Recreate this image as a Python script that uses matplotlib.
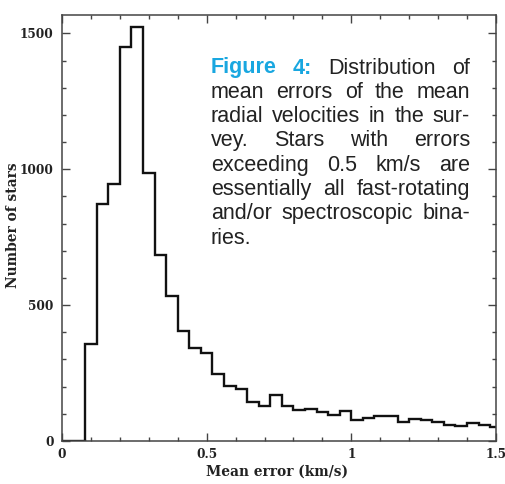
import matplotlib
matplotlib.use("Agg")
import matplotlib.pyplot as plt
from matplotlib import font_manager
import numpy as np

# ---- data ----
bin_start = 0.08
bin_width = 0.04
counts = [356, 874, 945, 1451, 1525, 988, 684, 534, 404, 344, 324, 248,
          201, 193, 144, 128, 168, 129, 113, 117, 108, 97, 109, 76,
          86, 92, 91, 70, 82, 76, 70, 60, 54, 66, 60, 52]
xticks = [0, 0.5, 1, 1.5]
xticklabels = ["0", "0.5", "1", "1.5"]
yticks = [0, 500, 1000, 1500]
caption_lines = [
    "Figure 4: Distribution of",
    "mean errors of the mean",
    "radial velocities in the sur-",
    "vey. Stars with errors",
    "exceeding 0.5 km/s are",
    "essentially all fast-rotating",
    "and/or spectroscopic bina-",
    "ries.",
]

W, H = 506, 484
fig = plt.figure(figsize=(W / 100, H / 100), dpi=100)
ax = fig.add_axes([62 / W, (H - 441) / H, 434 / W, 426 / H])

edges = bin_start + bin_width * np.arange(len(counts) + 1)
ax.stairs(counts, edges, baseline=0, color="#111111", linewidth=1.7)
ax.plot([0, bin_start], [0, 0], color="#111111", linewidth=1.7)

ax.set_xlim(0, 1.5)
ax.set_ylim(0, 1568)
ax.set_xticks(xticks)
ax.set_xticklabels(xticklabels)
ax.set_yticks(yticks)
ax.set_xticks(np.arange(0, 1.5001, 0.1), minor=True)
ax.set_yticks(np.arange(0, 1568, 100), minor=True)

tick_fp = font_manager.FontProperties(family=["DejaVu Serif"], weight="bold", size=8.7)
lab_fp = font_manager.FontProperties(family=["DejaVu Serif"], weight="bold", size=9.9)
for lab in ax.get_xticklabels() + ax.get_yticklabels():
    lab.set_fontproperties(tick_fp)
    lab.set_color("#222222")

ax.tick_params(which="both", direction="in", top=True, right=True,
               color="#444444", width=1.0)
ax.tick_params(which="major", length=6)
ax.tick_params(which="minor", length=3.2)
ax.tick_params(axis="y", pad=6)
ax.tick_params(axis="x", pad=5)
for s in ax.spines.values():
    s.set_color("#444444")
    s.set_linewidth(1.1)

ax.set_xlabel("Mean error (km/s)", fontproperties=lab_fp, color="#222222")
ax.set_ylabel("Number of stars", fontproperties=lab_fp, color="#222222")
ax.xaxis.set_label_coords(0.495, -0.056)
ax.yaxis.set_label_coords(-0.097, 0.507)

# ---- justified caption ----
renderer = fig.canvas.get_renderer()
x_left, x_right = 211, 470
base0, step = 73.5, 24.3
cyan = "#19a7e0"

# size the caption font so that the fullest line has the reference word widths
pw = sum(fig.text(0, 0, w, family="Liberation Sans", size=10).get_window_extent(renderer).width
         for w in ["essentially", "all", "fast-rotating"])
cap_size = 10 * 237 / pw
fig.texts.clear()
cap_font = dict(family="Liberation Sans", size=cap_size)

for i, line in enumerate(caption_lines):
    words = line.split(" ")
    y = 1 - (base0 + i * step) / H
    texts = []
    for j, w in enumerate(words):
        bold = (i == 0 and j < 2)
        t = fig.text(0, y, w, va="baseline", ha="left",
                     color=cyan if bold else "#222222",
                     fontweight="bold" if bold else "normal", **cap_font)
        texts.append(t)
    widths = [t.get_window_extent(renderer).width for t in texts]
    last = i == len(caption_lines) - 1
    if last or len(words) == 1:
        gap = 0.278 * cap_size * 100 / 72
    else:
        gap = (x_right - x_left - sum(widths)) / (len(words) - 1)
    xs = x_left
    for t, wdt in zip(texts, widths):
        t.set_x(xs / W)
        xs += wdt + gap

fig.savefig("out.png", dpi=100)
